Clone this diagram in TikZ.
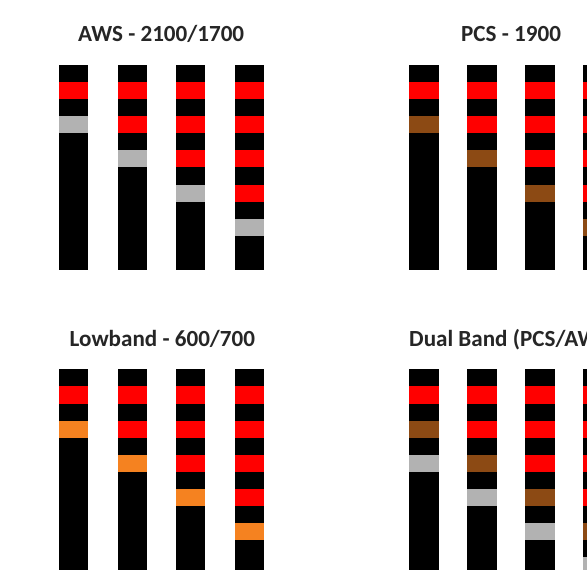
\documentclass[tikz,border=0pt]{standalone}
\usepackage{fontspec}
\setmainfont{Carlito}
\definecolor{bandred}{HTML}{FF0000}
\definecolor{bandblack}{HTML}{000000}
\definecolor{taggray}{HTML}{B2B2B2}
\definecolor{tagbrown}{HTML}{8C4A14}
\definecolor{tagorange}{HTML}{F58220}
\begin{document}
\begin{tikzpicture}[x=1pt,y=-1pt,
  bartitle/.style={font=\bfseries\fontsize{23.1}{27}\selectfont, anchor=base west, inner sep=0pt, text=black!85}]
\useasboundingbox (0,0) rectangle (587,570);
\fill[white] (0,0) rectangle (587,570);
% titles
\node[bartitle] (awsTitle) at (78,41.5) {AWS - 2100/1700};
\node[bartitle] (pcsTitle) at (461,41.5) {PCS - 1900};
\node[bartitle] (lowTitle) at (69.5,346.5) {Lowband - 600/700};
\node[bartitle] (dualTitle) at (409,346.5) {Dual Band (PCS/AWS)};
% AWS (top left)
\foreach \i in {1,...,4} {
  \pgfmathsetmacro\xl{59+58.7*(\i-1)}
  \fill[bandblack] (\xl,65) rectangle ++(29,{12*17.08});
  \foreach \k in {1,...,\i} \fill[bandred] (\xl,{65+(2*\k-1)*17.08}) rectangle ++(29,17.08);
  \fill[taggray] (\xl,{65+(2*\i+1)*17.08}) rectangle ++(29,17.08);
}
% PCS (top right)
\foreach \i in {1,...,4} {
  \pgfmathsetmacro\xl{409+58*(\i-1)}
  \fill[bandblack] (\xl,65) rectangle ++(30,{12*17.08});
  \foreach \k in {1,...,\i} \fill[bandred] (\xl,{65+(2*\k-1)*17.08}) rectangle ++(30,17.08);
  \fill[tagbrown] (\xl,{65+(2*\i+1)*17.08}) rectangle ++(30,17.08);
}
% Lowband (bottom left)
\foreach \i in {1,...,4} {
  \pgfmathsetmacro\xl{59+58.7*(\i-1)}
  \fill[bandblack] (\xl,369.3) rectangle ++(29,{12*17.1});
  \foreach \k in {1,...,\i} \fill[bandred] (\xl,{369.3+(2*\k-1)*17.1}) rectangle ++(29,17.1);
  \fill[tagorange] (\xl,{369.3+(2*\i+1)*17.1}) rectangle ++(29,17.1);
}
% Dual band (bottom right)
\foreach \i in {1,...,4} {
  \pgfmathsetmacro\xl{409+58*(\i-1)}
  \fill[bandblack] (\xl,369.3) rectangle ++(30,{12*17.1});
  \foreach \k in {1,...,\i} \fill[bandred] (\xl,{369.3+(2*\k-1)*17.1}) rectangle ++(30,17.1);
  \fill[tagbrown] (\xl,{369.3+(2*\i+1)*17.1}) rectangle ++(30,17.1);
  \fill[taggray] (\xl,{369.3+(2*\i+3)*17.1}) rectangle ++(30,17.1);
}
\end{tikzpicture}
\end{document}
